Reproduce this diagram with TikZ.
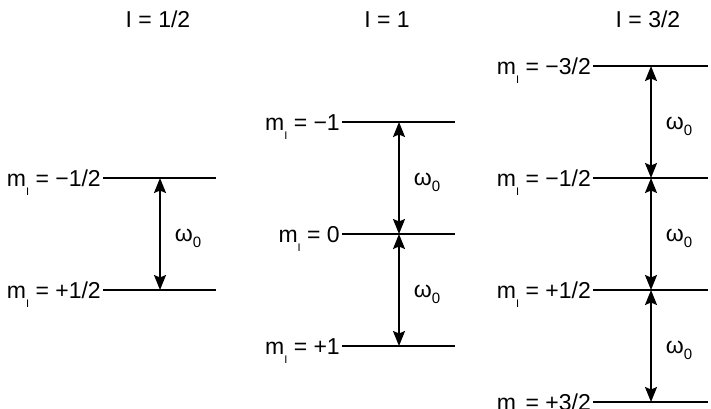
\documentclass[tikz,border=0pt]{standalone}
\usepackage{fontspec}
\setmainfont{Liberation Sans}
\usetikzlibrary{arrows.meta,positioning}

\newcommand{\mI}{m\raisebox{-9pt}{\fontsize{11}{11}\selectfont I}}
\newcommand{\wz}{ω\raisebox{-6pt}{\fontsize{15}{15}\selectfont 0}}

\begin{document}
\begin{tikzpicture}[
    x=1pt, y=-1pt,
    font=\fontsize{23}{27}\selectfont,
    level/.style={line width=1.8pt},
    mlabel/.style={anchor=base east, inner sep=2pt, yshift=-8pt},
    title/.style={anchor=base, inner sep=0pt},
    omega/.style={anchor=base west, inner sep=0pt, xshift=14pt, yshift=-7pt},
    split/.style={{Stealth[length=15pt,width=12pt,inset=2.5pt]}-{Stealth[length=15pt,width=12pt,inset=2.5pt]}, line width=1.7pt}
]
\useasboundingbox (0,0) rectangle (711,408);

% I = 1/2
\node[title] (tA) at (158,27) {I = 1/2};
\coordinate (A1) at (103,178);
\coordinate (A2) at (103,290);
\draw[level] (A1) -- ++(113,0);
\draw[level] (A2) -- ++(113,0);
\node[mlabel] (lA1) at (A1) {\mI{} = −1/2};
\node[mlabel] (lA2) at (A2) {\mI{} = +1/2};
\draw[split] ([xshift=57pt]A1) -- node[omega] (wA1) {\wz} ([xshift=57pt]A2);

% I = 1
\node[title] (tB) at (387,27) {I = 1};
\coordinate (B1) at (342,122);
\coordinate (B2) at (342,234);
\coordinate (B3) at (342,346);
\draw[level] (B1) -- ++(113,0);
\draw[level] (B2) -- ++(113,0);
\draw[level] (B3) -- ++(113,0);
\node[mlabel] (lB1) at (B1) {\mI{} = −1};
\node[mlabel] (lB2) at (B2) {\mI{} = 0\ };
\node[mlabel] (lB3) at (B3) {\mI{} = +1};
\draw[split] ([xshift=57pt]B1) -- node[omega] (wB1) {\wz} ([xshift=57pt]B2);
\draw[split] ([xshift=57pt]B2) -- node[omega] (wB2) {\wz} ([xshift=57pt]B3);

% I = 3/2
\node[title] (tC) at (648,27) {I = 3/2};
\coordinate (C1) at (593,66);
\coordinate (C2) at (593,178);
\coordinate (C3) at (593,290);
\coordinate (C4) at (593,402);
\draw[level] (C1) -- ++(115,0);
\draw[level] (C2) -- ++(115,0);
\draw[level] (C3) -- ++(115,0);
\draw[level] (C4) -- ++(115,0);
\node[mlabel] (lC1) at (C1) {\mI{} = −3/2};
\node[mlabel] (lC2) at (C2) {\mI{} = −1/2};
\node[mlabel] (lC3) at (C3) {\mI{} = +1/2};
\node[mlabel] (lC4) at (C4) {\mI{} = +3/2};
\draw[split] ([xshift=58pt]C1) -- node[omega] (wC1) {\wz} ([xshift=58pt]C2);
\draw[split] ([xshift=58pt]C2) -- node[omega] (wC2) {\wz} ([xshift=58pt]C3);
\draw[split] ([xshift=58pt]C3) -- node[omega] (wC3) {\wz} ([xshift=58pt]C4);
\end{tikzpicture}
\end{document}
